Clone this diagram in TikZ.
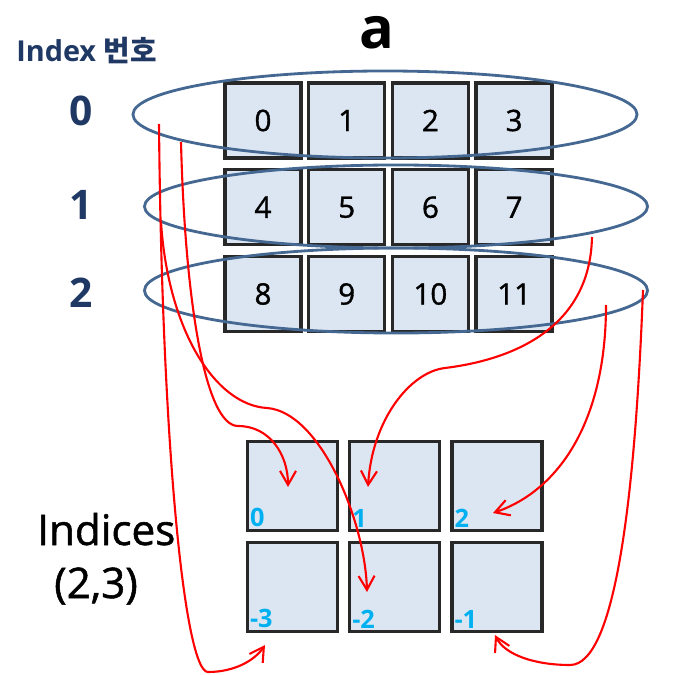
\documentclass[tikz,border=0pt]{standalone}
\usepackage{fontspec}
\setmainfont{Open Sans}
\newfontfamily\midfont{Open Sans}[FakeBold=1.2]
\newfontfamily\krfont{Noto Sans CJK KR}
\usetikzlibrary{arrows.meta,shapes.geometric}
\definecolor{nv}{RGB}{31,56,100}
\definecolor{rg}{RGB}{68,104,145}
\definecolor{cf}{RGB}{220,230,242}
\definecolor{cl}{RGB}{40,40,40}
\definecolor{sk}{RGB}{0,176,240}
\newcommand{\nv}[1]{\textcolor{nv}{#1}}
\newcommand{\fs}[1]{\fontsize{#1}{#1}\selectfont}
\tikzset{
  acell/.style={draw=cl,fill=cf,line width=2.4pt,minimum width=1.9cm,
    minimum height=1.875cm,inner sep=0pt,font=\midfont\fs{21}},
  icell/.style={acell,minimum width=2.25cm,minimum height=2.225cm},
  ring/.style={ellipse,draw=rg,line width=2pt,inner sep=0pt},
  ilabel/.style={anchor=south west,inner sep=0pt,text=sk,font=\fs{18}\bfseries},
  rowlabel/.style={anchor=base,inner sep=0pt,font=\fs{29}\bfseries,text=nv},
  link/.style={red,line width=1.5pt,-{Straight Barb[length=3.5mm,width=4mm]}},
}

\begin{document}
\begin{tikzpicture}[x=0.025cm,y=-0.025cm]%
  \useasboundingbox (0,0) rectangle (690,675);
  % array a
  \foreach \r in {0,1,2}
    \foreach \c in {0,...,3}{%
      \pgfmathtruncatemacro{\n}{4*\r+\c}
      \node [acell] (a\n) at ({263+83.7*\c},{120.5+86.75*\r}) {\n};
    }
  \node [ring,minimum width=12.6cm,minimum height=2.175cm] (ring0) at (385,114.5) {};
  \node [ring,minimum width=12.575cm,minimum height=2.075cm] (ring1) at (396,206.5) {};
  \node [ring,minimum width=12.575cm,minimum height=2.125cm] (ring2) at (396,290.5) {};
  % indices (2,3)
  \foreach \r in {0,1}
    \foreach \c in {0,1,2}{%
      \pgfmathtruncatemacro{\k}{\c-3*\r}
      \node [icell] (ix\r\c) at ({292.5+102.25*\c},{486+101*\r}) {};
      \node [ilabel] (lb\r\c) at ([xshift=0.1cm,yshift=0.12cm]ix\r\c.south west) {\k};
    }
  % labels
  \node [font=\fs{41}\bfseries,inner sep=0pt] (title) at (377,32.5) {a};
  \node [anchor=base west,inner sep=0pt,font=\fs{20.5}\bfseries] (head) at (16,62)
    {\nv{Index {\krfont 번호}}};
  \node [rowlabel] (r0) at (81.5,126) {0};
  \node [rowlabel] (r1) at (81.5,220) {1};
  \node [rowlabel] (r2) at (81.5,307) {2};
  \node [anchor=base west,inner sep=0pt,font=\midfont\fs{30}] (ind) at (37,545) {Indices};
  \node [anchor=base,inner sep=0pt,font=\midfont\fs{30}] (shp) at (96,598) {(2,3)};
  % mapping arrows
  \coordinate (s0) at (159,124);
  \coordinate (s1) at (161,222);
  \coordinate (s2) at (181,142);
  \coordinate (s3) at (592,237);
  \coordinate (s4) at (606,305);
  \coordinate (s5) at (643,290);
  \coordinate (t0) at (265,645);
  \coordinate (t1) at (367,592);
  \coordinate (t2) at (288,487);
  \coordinate (t3) at (368,487);
  \coordinate (t4) at (493,513);
  \coordinate (t5) at (495,635);
  \draw [link] (s0) .. controls (162,450) and (185,672) .. (208,672)
    .. controls (235,672) and (255,660) .. (t0);
  \draw [link] (s1) .. controls (168,330) and (215,405) .. (267,408)
    .. controls (320,412) and (365,520) .. (t1);
  \draw [link] (s2) .. controls (185,300) and (205,426) .. (238,426)
    .. controls (270,426) and (288,455) .. (t2);
  \draw [link] (s3) .. controls (590,330) and (510,360) .. (445,368)
    .. controls (410,372) and (372,420) .. (t3);
  \draw [link] (s4) .. controls (606,420) and (560,490) .. (t4);
  \draw [link] (s5) .. controls (635,500) and (615,665) .. (570,665)
    .. controls (535,665) and (505,655) .. (t5);
\end{tikzpicture}
\end{document}
